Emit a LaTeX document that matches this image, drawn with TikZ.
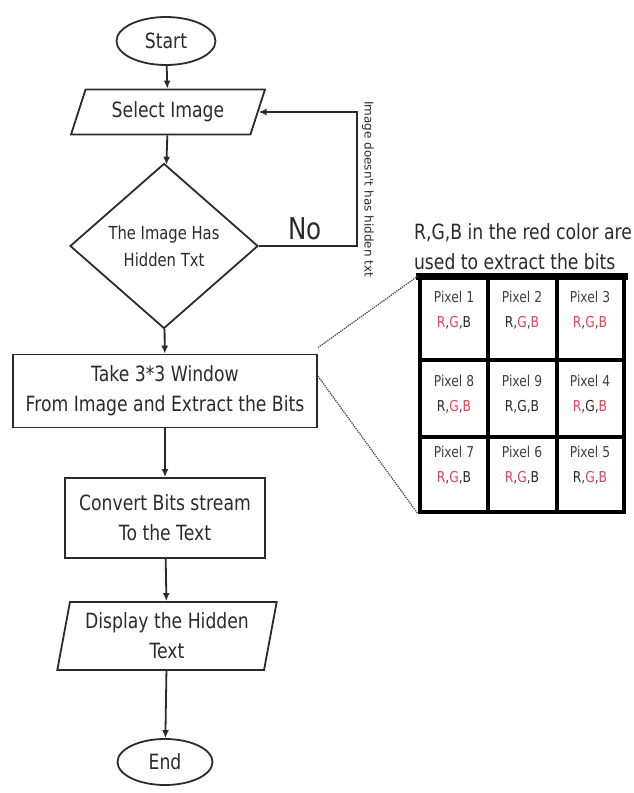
\documentclass[tikz,border=0pt]{standalone}
\usepackage{fontspec}
\setmainfont[FakeStretch=0.82]{DejaVu Sans}
\newfontfamily\plainsans{DejaVu Sans}
\usetikzlibrary{shapes.geometric,arrows.meta}
\definecolor{ink}{HTML}{2B2B2B}
\definecolor{bitred}{HTML}{D8485A}
\newcommand\pixrgb[3]{\textcolor{#1}{R},\textcolor{#2}{G},\textcolor{#3}{B}}
\newcommand\flowfont{\fontsize{21}{30}\selectfont}
\begin{document}
\begin{tikzpicture}[x=1pt,y=-1pt,
  every node/.style={text=ink},
  shapeline/.style={draw=ink, line width=1.8pt, inner sep=0pt, font=\flowfont, align=center},
  term/.style={shapeline, ellipse, minimum width=99pt, minimum height=48pt},
  io/.style={shapeline, trapezium, trapezium left angle=#1, trapezium right angle=180-#1,
             trapezium stretches=true},
  proc/.style={shapeline, rectangle},
  decide/.style={shapeline, diamond, minimum width=188pt, minimum height=165pt,
                 font=\fontsize{18}{27}\selectfont},
  flow/.style={draw=ink, line width=1.8pt, -{Latex[length=8pt,width=7pt]}},
  zoomline/.style={draw=ink!85, line width=1.3pt, densely dotted},
  grid/.style={draw=black, line width=4pt},
  cell/.style={align=center, font=\fontsize{15}{25}\selectfont, text=ink!90, inner sep=0pt}
]
\useasboundingbox (0,0) rectangle (634,793);

% main flow
\node[term] (start) at (166,41) {Start};
\node[io=64, minimum width=194pt, minimum height=45pt] (sel) at (168,112) {Select Image};
\node[decide] (dec) at (164,246) {The Image Has\\Hidden Txt};
\node[proc, minimum width=304pt, minimum height=73pt] (take) at (165,391)
  {Take 3*3 Window\\From Image and Extract the Bits};
\node[proc, minimum width=200pt, minimum height=80pt] (conv) at (165,518)
  {Convert Bits stream\\To the Text};
\node[io=77, minimum width=220pt, minimum height=68pt] (disp) at (167,636)
  {Display the Hidden\\Text};
\node[term, minimum width=95pt, minimum height=46pt] (fin) at (165,762) {End};

\draw[flow] (start) -- (sel);
\draw[flow] (sel) -- (dec);
\draw[flow] (dec) -- (take);
\draw[flow] (take) -- (conv);
\draw[flow] (conv) -- (disp);
\draw[flow] (disp) -- (fin);

% "No" branch back to the image selection
\coordinate (back) at (357,246);
\draw[flow] (dec.east) -- (back) |- (sel.east);
\node[font=\fontsize{30}{30}\selectfont] (no) at (305,229) {No};
\node[rotate=-90, font=\plainsans\fontsize{12}{12}\selectfont] (nolabel) at (368,189)
  {Image doesn't has hidden txt};

% pixel window
\node[align=left, font=\fontsize{21}{30}\selectfont] (cap) at (523,247)
  {R,G,B in the red color are\\used to extract the bits};
\node[grid, rectangle, minimum width=204pt, minimum height=234pt, inner sep=0pt] (tbl) at (522,395) {};
\draw[black, line width=7pt] ([xshift=-2pt]tbl.north west) -- ([xshift=2pt]tbl.north east);
\draw[grid] (488,278) -- (488,512);
\draw[grid] (557,278) -- (557,512);
\draw[grid] (420,360) -- (624,360);
\draw[grid] (420,437) -- (624,437);

\node[cell] (p1) at (454,310) {Pixel 1\\\pixrgb{bitred}{bitred}{ink}};
\node[cell] (p2) at (522,310) {Pixel 2\\\pixrgb{ink}{bitred}{bitred}};
\node[cell] (p3) at (590,310) {Pixel 3\\\pixrgb{bitred}{bitred}{bitred}};
\node[cell] (p8) at (454,394) {Pixel 8\\\pixrgb{ink}{bitred}{bitred}};
\node[cell] (p9) at (522,394) {Pixel 9\\\pixrgb{ink}{ink}{ink}};
\node[cell] (p4) at (590,394) {Pixel 4\\\pixrgb{bitred}{ink}{bitred}};
\node[cell] (p7) at (454,465) {Pixel 7\\\pixrgb{bitred}{bitred}{ink}};
\node[cell] (p6) at (522,465) {Pixel 6\\\pixrgb{bitred}{bitred}{ink}};
\node[cell] (p5) at (590,465) {Pixel 5\\\pixrgb{ink}{bitred}{bitred}};

% dotted zoom lines from the window step to the grid
\draw[zoomline] ([yshift=6pt]take.north east) -- (tbl.north west);
\draw[zoomline] ([yshift=15pt]take.east) -- (tbl.south west);
\end{tikzpicture}
\end{document}
